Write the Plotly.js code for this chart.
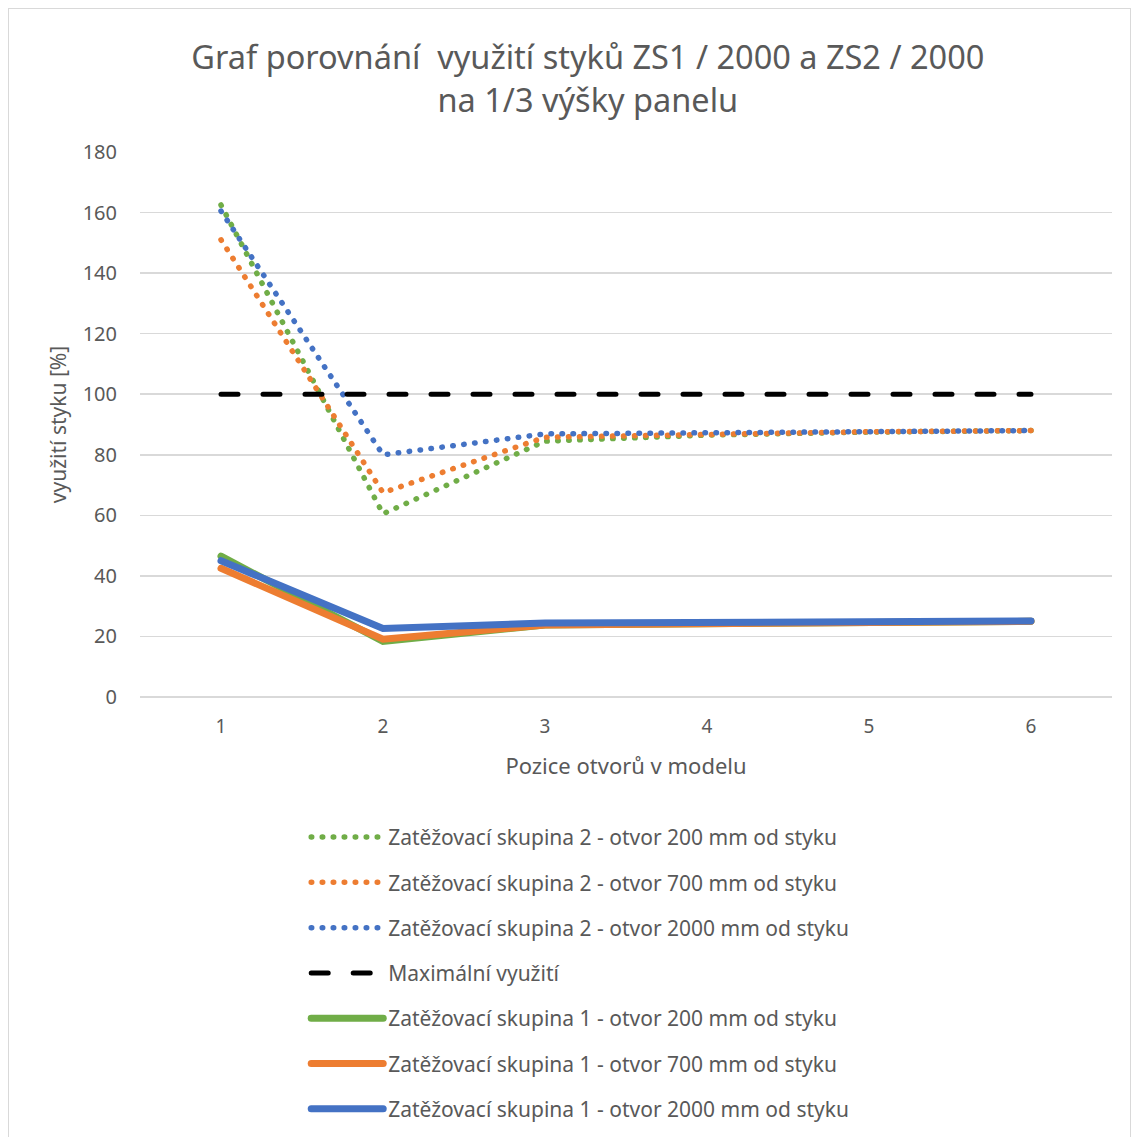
<!DOCTYPE html>
<html>
<head>
<meta charset="utf-8">
<script src="https://cdn.plot.ly/plotly-3.0.1.min.js"></script>
<style>
html,body{margin:0;padding:0;background:#fff;overflow:hidden;}
#chart{width:1137px;height:1137px;}
#frame{position:absolute;left:8px;top:8px;width:1121px;height:1140px;border:1px solid #d9d9d9;pointer-events:none;}
#chart path.js-line{stroke-linecap:round !important;}
</style>
</head>
<body>
<div id="chart"></div>
<div id="frame"></div>
<script>
const positions = ['1','2','3','4','5','6'];
const zs2_200 = [162.5, 60.5, 84.5, 86.5, 87.5, 88];
const zs2_700 = [151, 67.5, 85.8, 86.8, 87.6, 88];
const zs2_2000 = [160.5, 80, 86.9, 87.4, 87.8, 88];
const maxUse = [100, 100, 100, 100, 100, 100];
const zs1_200 = [46.5, 18.4, 23.8, 24.3, 24.7, 25];
const zs1_700 = [42.5, 19.1, 23.8, 24.3, 24.7, 25];
const zs1_2000 = [45, 22.6, 24.4, 24.7, 24.9, 25.1];

const GREEN = '#70AD47', ORANGE = '#ED7D31', BLUE = '#4472C4';
const FONT = 'Noto Sans, sans-serif';

function dotted(name, y, color) {
  return {x: positions, y: y, name: name, type: 'scatter', mode: 'lines',
    line: {color: color, width: 5.5, dash: '0.5px,10.5px'}, legendgroup: name};
}
function solid(name, y, color) {
  return {x: positions, y: y, name: name, type: 'scatter', mode: 'lines',
    line: {color: color, width: 7}, legendgroup: name};
}

const data = [
  dotted('Zatěžovací skupina 2 - otvor 200 mm od styku', zs2_200, GREEN),
  dotted('Zatěžovací skupina 2 - otvor 700 mm od styku', zs2_700, ORANGE),
  dotted('Zatěžovací skupina 2 - otvor 2000 mm od styku', zs2_2000, BLUE),
  {x: positions, y: maxUse, name: 'Maximální využití', type: 'scatter', mode: 'lines',
    line: {color: '#000000', width: 5, dash: '17px,25px'}, legendgroup: 'max'},
  solid('Zatěžovací skupina 1 - otvor 200 mm od styku', zs1_200, GREEN),
  solid('Zatěžovací skupina 1 - otvor 700 mm od styku', zs1_700, ORANGE),
  solid('Zatěžovací skupina 1 - otvor 2000 mm od styku', zs1_2000, BLUE)
];

const layout = {
  width: 1137, height: 1137,
  paper_bgcolor: '#ffffff', plot_bgcolor: '#ffffff',
  margin: {l: 140, r: 25, t: 152, b: 440, autoexpand: false},
  font: {family: FONT, color: '#595959'},
  title: {text: 'Graf porovnání  využití styků ZS1 / 2000 a ZS2 / 2000<br>na 1/3 výšky panelu',
    font: {family: FONT, size: 32.5, color: '#595959'}, x: 0.517, xanchor: 'center', y: 0.939, yanchor: 'top'},
  xaxis: {type: 'category', range: [-0.5, 5.5], showgrid: false, zeroline: false,
    showline: false, ticks: '', tickfont: {size: 19, color: '#595959'}, ticklabelstandoff: 16,
    title: {text: 'Pozice otvorů v modelu', font: {size: 22, color: '#595959'}, standoff: 20}},
  yaxis: {range: [0, 180], dtick: 20, showgrid: true, gridcolor: '#d9d9d9', gridwidth: 1.5,
    zeroline: true, zerolinecolor: '#d9d9d9', zerolinewidth: 1.5, showline: false,
    tickfont: {size: 20, color: '#595959'}, ticklabelstandoff: 22,
    title: {text: 'využití styku [%]', font: {size: 21, color: '#595959'}, standoff: 10}},
  legend: {x: 0.171, xanchor: 'left', y: -0.22, yanchor: 'top', orientation: 'v',
    traceorder: 'grouped', tracegroupgap: 15, itemwidth: 72, font: {size: 21, color: '#595959'},
    bgcolor: 'rgba(0,0,0,0)'},
  showlegend: true
};

Plotly.newPlot('chart', data, layout, {displayModeBar: false, staticPlot: true});
</script>
</body>
</html>
